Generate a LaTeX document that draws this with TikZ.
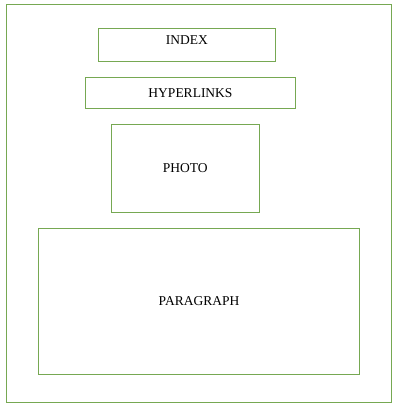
\documentclass[tikz,border=0pt]{standalone}
\usepackage{fontspec}
\setmainfont{Liberation Serif}
\definecolor{boxgreen}{RGB}{118,168,82}
\begin{document}
\begin{tikzpicture}[x=1pt,y=-1pt,
  frame/.style={draw=boxgreen,line width=1pt},
  lbl/.style={font=\fontsize{13.5}{16}\selectfont,inner sep=0pt}]
\useasboundingbox (0,0) rectangle (403,414);
\draw[frame] (6.3,5) rectangle (391.5,402.3);
\draw[frame] (98.3,28.3) rectangle (275.3,61.3);
\node[lbl] (index) at (186.8,40.5) {INDEX};
\draw[frame] (85.7,77.7) rectangle (295.3,109);
\node[lbl] (hyper) at (190.5,93.3) {HYPERLINKS};
\draw[frame] (111.3,124.7) rectangle (259.3,212.3);
\node[lbl] (photo) at (185.3,168.5) {PHOTO};
\draw[frame] (38.7,228.3) rectangle (359.3,374);
\node[lbl] (para) at (199,301) {PARAGRAPH};
\end{tikzpicture}
\end{document}
